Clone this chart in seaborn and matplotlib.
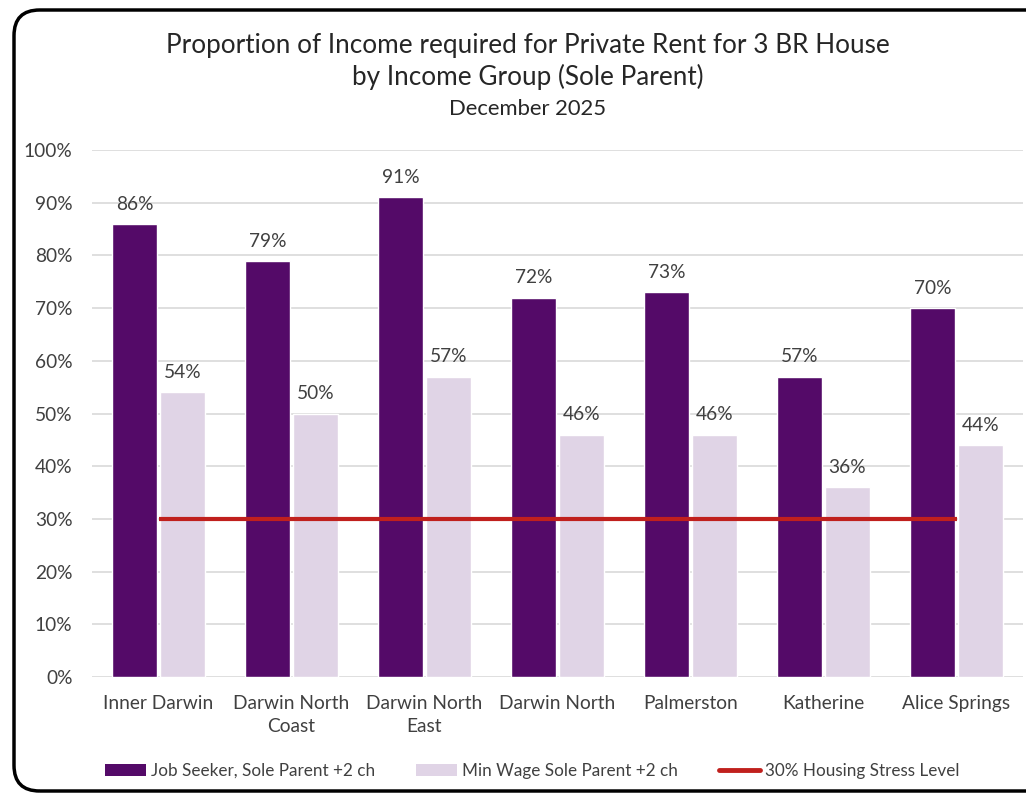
import numpy as np
import pandas as pd
import seaborn as sns
import matplotlib
matplotlib.use("Agg")
import matplotlib.pyplot as plt
from matplotlib.patches import FancyBboxPatch, Patch
from matplotlib.lines import Line2D

regions = ["Inner Darwin", "Darwin North\nCoast", "Darwin North\nEast", "Darwin North",
           "Palmerston", "Katherine", "Alice Springs"]
job_seeker = [86, 79, 91, 72, 73, 57, 70]
min_wage = [54, 50, 57, 46, 46, 36, 44]
stress_level = 30
series_names = ["Job Seeker, Sole Parent +2 ch", "Min Wage Sole Parent +2 ch"]
stress_name = "30% Housing Stress Level"
yticks = [0, 10, 20, 30, 40, 50, 60, 70, 80, 90, 100]
title_lines = ["Proportion of Income required for Private Rent for 3 BR House",
               "by Income Group (Sole Parent)"]
subtitle = "December 2025"

DARK = "#540a68"
LIGHT = "#e0d4e6"
RED = "#c0201d"
TEXT = "#404040"

sns.set_theme(style="white")
plt.rcParams["font.family"] = ["Lato", "DejaVu Sans"]

df = pd.DataFrame({
    "region": regions * 2,
    "value": np.array(job_seeker + min_wage) / 100.0,
    "group": [series_names[0]] * len(regions) + [series_names[1]] * len(regions),
})

fig = plt.figure(figsize=(10.26, 7.94), dpi=100)
ax = fig.add_axes([92 / 1026, 1 - 677 / 794, 931 / 1026, 527 / 794])

sns.barplot(data=df, x="region", y="value", hue="group", palette=[DARK, LIGHT],
            width=0.72, gap=0.06, saturation=1, ax=ax, legend=False, zorder=2)

for cont in ax.containers:
    ax.bar_label(cont, labels=[f"{v * 100:.0f}%" for v in cont.datavalues],
                 padding=8, fontsize=13.8, color=TEXT)

xs = np.arange(len(regions))
ax.plot(xs[[0, -1]], [stress_level / 100.0] * 2, color=RED, lw=3, zorder=3,
        solid_capstyle="butt")

ax.set_ylim(0, 1.0)
ax.set_xlim(-0.5, len(regions) - 0.5)
ax.set_yticks([t / 100 for t in yticks])
ax.set_yticklabels([f"{t}%" for t in yticks])
ax.yaxis.grid(True, color="#d9d9d9", lw=1.2, zorder=0)
ax.set_axisbelow(True)
for s in ax.spines.values():
    s.set_visible(False)
ax.tick_params(axis="y", length=0, pad=14, labelsize=13.8, labelcolor=TEXT)
ax.tick_params(axis="x", length=0, pad=13, labelsize=13.8, labelcolor=TEXT)
for lbl in ax.get_xticklabels():
    lbl.set_linespacing(1.45)
ax.set_xlabel("")
ax.set_ylabel("")

fig.text(528 / 1026, 1 - 45 / 794, title_lines[0], ha="center", va="center",
         fontsize=18.8, color="#262626")
fig.text(528 / 1026, 1 - 77 / 794, title_lines[1], ha="center", va="center",
         fontsize=18.8, color="#262626")
fig.text(528 / 1026, 1 - 109 / 794, subtitle, ha="center", va="center",
         fontsize=15.8, color="#262626")

handles = [Patch(facecolor=DARK, edgecolor="none"),
           Patch(facecolor=LIGHT, edgecolor="none"),
           Line2D([0], [0], color=RED, lw=3.5)]
fig.legend(handles, series_names + [stress_name], loc="center",
           bbox_to_anchor=(532 / 1026, 1 - 771 / 794), ncol=3, frameon=False,
           fontsize=12.3, handlelength=2.4, handleheight=0.7, handletextpad=0.3,
           columnspacing=2.4, labelcolor=TEXT)

frame = FancyBboxPatch((14 / 1026, 1 - 791 / 794), 1.05, 781 / 794,
                       boxstyle="round,pad=0,rounding_size=0.025",
                       transform=fig.transFigure, facecolor="none",
                       edgecolor="black", lw=2.5, clip_on=False,
                       mutation_aspect=1026 / 794)
fig.patches.append(frame)

fig.savefig("out.png", dpi=100, facecolor="white")
